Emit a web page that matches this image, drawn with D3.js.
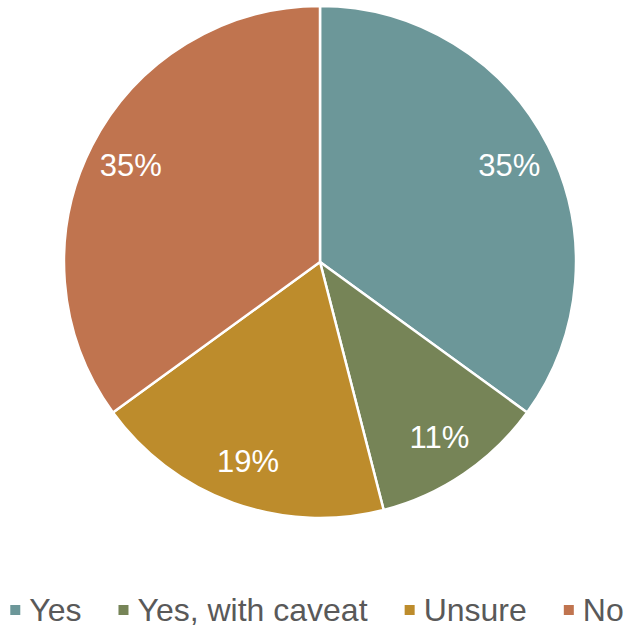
<!DOCTYPE html>
<html>
<head>
<meta charset="utf-8">
<script src="https://cdn.jsdelivr.net/npm/d3@7"></script>
<style>
  html, body { margin: 0; padding: 0; background: #ffffff; }
  svg { display: block; }
</style>
</head>
<body>
<svg id="chart" width="634" height="629"></svg>
<script>
// Survey answers and their share of responses (%)
const categories = ["Yes", "Yes, with caveat", "Unsure", "No"];
const shares = [35, 11, 19, 35];
const colors = ["#6c9799", "#768457", "#bd8c2c", "#c0744f"];

const width = 634, height = 629;
const cx = 320, cy = 262, radius = 256;

const svg = d3.select("#chart");
const data = categories.map((c, i) => ({ name: c, value: shares[i], color: colors[i] }));

const pie = d3.pie().value(d => d.value).sort(null);
const arc = d3.arc().innerRadius(0).outerRadius(radius);
const labelArc = d3.arc().innerRadius(radius * 0.83).outerRadius(radius * 0.83);

const g = svg.append("g").attr("transform", `translate(${cx},${cy})`);
const arcs = pie(data);

g.selectAll("path.slice")
  .data(arcs)
  .join("path")
  .attr("class", "slice")
  .attr("d", arc)
  .attr("fill", d => d.data.color)
  .attr("stroke", "#ffffff")
  .attr("stroke-width", 2.5)
  .attr("stroke-linejoin", "round");

g.selectAll("text.pct")
  .data(arcs)
  .join("text")
  .attr("class", "pct")
  .attr("transform", d => `translate(${labelArc.centroid(d)})`)
  .attr("text-anchor", "middle")
  .attr("dominant-baseline", "central")
  .attr("font-family", "Liberation Sans, Arial, sans-serif")
  .attr("font-size", 31)
  .attr("fill", "#ffffff")
  .text(d => d.data.value + "%");

// Legend along the bottom, centred horizontally
const legend = svg.append("g").attr("class", "legend");
const sq = 10, sqGap = 9, itemGap = 37, legendY = 610;
const items = legend.selectAll("g.item")
  .data(data)
  .join("g")
  .attr("class", "item");
items.append("rect")
  .attr("width", sq).attr("height", sq)
  .attr("y", legendY - sq / 2)
  .attr("fill", d => d.color);
items.append("text")
  .attr("x", sq + sqGap)
  .attr("y", legendY)
  .attr("dominant-baseline", "central")
  .attr("font-family", "Liberation Sans, Arial, sans-serif")
  .attr("font-size", 32)
  .attr("fill", "#595959")
  .text(d => d.name);

let widths = [];
items.each(function () {
  widths.push(this.getBBox().width);
});
const total = d3.sum(widths) + itemGap * (widths.length - 1);
let x = (width - total) / 2;
items.attr("transform", (d, i) => {
  const t = `translate(${x},0)`;
  x += widths[i] + itemGap;
  return t;
});
</script>
</body>
</html>
